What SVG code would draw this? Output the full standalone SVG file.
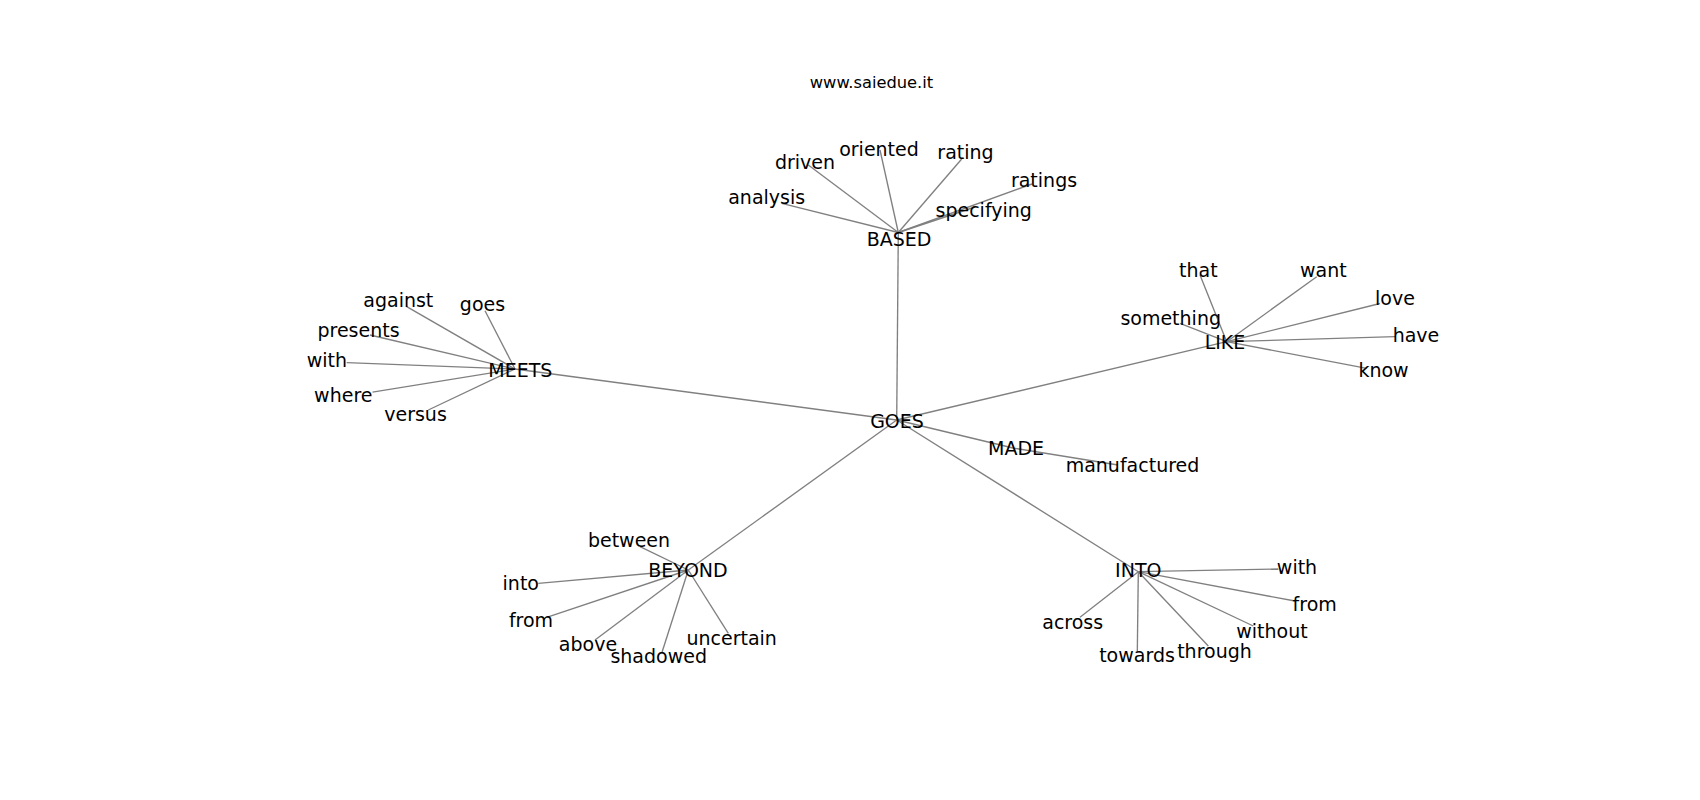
<svg xmlns="http://www.w3.org/2000/svg" width="1700" height="800" viewBox="0 0 1700 800">
<style>
  .e line { stroke: #808080; stroke-width: 1.35; fill: none; }
  text { font-family: "DejaVu Sans", "Liberation Sans", sans-serif; fill: #000; text-anchor: middle; }
  .n text { font-size: 19px; }
  .t { font-size: 16.3px; }
</style>
<rect width="1700" height="800" fill="#fff"/>
<text class="t" x="871.5" y="88">www.saiedue.it</text>
<g id="connectors" class="e">
  <line x1="896.7" y1="420" x2="898.3" y2="232.5"/>
  <line x1="896.7" y1="420" x2="515" y2="369"/>
  <line x1="896.7" y1="420" x2="1226.7" y2="341.7"/>
  <line x1="896.7" y1="420" x2="1013" y2="448"/>
  <line x1="896.7" y1="420" x2="688.3" y2="570"/>
  <line x1="896.7" y1="420" x2="1138.3" y2="571.7"/>
  <line x1="898.3" y1="232.5" x2="781.7" y2="203.3"/>
  <line x1="898.3" y1="232.5" x2="808.3" y2="165"/>
  <line x1="898.3" y1="232.5" x2="880" y2="150"/>
  <line x1="898.3" y1="232.5" x2="961.7" y2="159"/>
  <line x1="898.3" y1="232.5" x2="1032" y2="184"/>
  <line x1="898.3" y1="232.5" x2="975" y2="207"/>
  <line x1="515" y1="369" x2="406.7" y2="306.7"/>
  <line x1="515" y1="369" x2="485" y2="310.7"/>
  <line x1="515" y1="369" x2="370" y2="335"/>
  <line x1="515" y1="369" x2="346.7" y2="362.7"/>
  <line x1="515" y1="369" x2="372.5" y2="392.2"/>
  <line x1="515" y1="369" x2="428.3" y2="410"/>
  <line x1="1226.7" y1="341.7" x2="1200" y2="275"/>
  <line x1="1226.7" y1="341.7" x2="1316.7" y2="276.7"/>
  <line x1="1226.7" y1="341.7" x2="1380" y2="303.5"/>
  <line x1="1226.7" y1="341.7" x2="1395" y2="336.7"/>
  <line x1="1226.7" y1="341.7" x2="1366.7" y2="368.3"/>
  <line x1="1226.7" y1="341.7" x2="1180" y2="323.3"/>
  <line x1="1013" y1="448" x2="1118" y2="465"/>
  <line x1="688.3" y1="570" x2="640" y2="546.7"/>
  <line x1="688.3" y1="570" x2="538.3" y2="583.3"/>
  <line x1="688.3" y1="570" x2="546.7" y2="617.3"/>
  <line x1="688.3" y1="570" x2="595" y2="640"/>
  <line x1="688.3" y1="570" x2="661.7" y2="653.3"/>
  <line x1="688.3" y1="570" x2="728.3" y2="633.3"/>
  <line x1="1138.3" y1="571.7" x2="1278.3" y2="569"/>
  <line x1="1138.3" y1="571.7" x2="1295" y2="601"/>
  <line x1="1138.3" y1="571.7" x2="1253.3" y2="626"/>
  <line x1="1138.3" y1="571.7" x2="1208.3" y2="646"/>
  <line x1="1138.3" y1="571.7" x2="1137.3" y2="651.7"/>
  <line x1="1138.3" y1="571.7" x2="1080" y2="617.3"/>
</g>
<g id="nodes" class="n">
  <g id="n-goes"><text x="897" y="428.3">GOES</text></g>
  <g id="n-based"><text x="899" y="246">BASED</text></g>
  <g id="n-analysis"><text x="766.7" y="204">analysis</text></g>
  <g id="n-driven"><text x="805" y="169">driven</text></g>
  <g id="n-oriented"><text x="879" y="156">oriented</text></g>
  <g id="n-rating"><text x="965.5" y="159.3">rating</text></g>
  <g id="n-ratings"><text x="1044" y="186.7">ratings</text></g>
  <g id="n-specifying"><text x="983.7" y="216.7">specifying</text></g>
  <g id="n-meets"><text x="520.3" y="376.7">MEETS</text></g>
  <g id="n-against"><text x="398.3" y="307.3">against</text></g>
  <g id="n-goes2"><text x="482.5" y="311">goes</text></g>
  <g id="n-presents"><text x="358.5" y="337.3">presents</text></g>
  <g id="n-with1"><text x="326.8" y="366.7">with</text></g>
  <g id="n-where"><text x="343.3" y="401.7">where</text></g>
  <g id="n-versus"><text x="415.5" y="420.7">versus</text></g>
  <g id="n-like"><text x="1225" y="349.3">LIKE</text></g>
  <g id="n-that"><text x="1198.3" y="276.7">that</text></g>
  <g id="n-want"><text x="1323.3" y="276.7">want</text></g>
  <g id="n-love"><text x="1395" y="305">love</text></g>
  <g id="n-have"><text x="1416" y="341.7">have</text></g>
  <g id="n-know"><text x="1383.5" y="377.3">know</text></g>
  <g id="n-something"><text x="1170.7" y="325">something</text></g>
  <g id="n-made"><text x="1016" y="455">MADE</text></g>
  <g id="n-manufactured"><text x="1132.5" y="471.7">manufactured</text></g>
  <g id="n-beyond"><text x="688" y="576.7">BEYOND</text></g>
  <g id="n-between"><text x="629" y="546.7">between</text></g>
  <g id="n-into1"><text x="520.8" y="590">into</text></g>
  <g id="n-from1"><text x="531" y="627.3">from</text></g>
  <g id="n-above"><text x="588" y="650.7">above</text></g>
  <g id="n-shadowed"><text x="658.7" y="663.3">shadowed</text></g>
  <g id="n-uncertain"><text x="731.7" y="645">uncertain</text></g>
  <g id="n-into"><text x="1138.3" y="576.7">INTO</text></g>
  <g id="n-with2"><text x="1297" y="574">with</text></g>
  <g id="n-from2"><text x="1314.7" y="610.7">from</text></g>
  <g id="n-without"><text x="1272" y="638.3">without</text></g>
  <g id="n-through"><text x="1214.5" y="658.3">through</text></g>
  <g id="n-towards"><text x="1137" y="661.7">towards</text></g>
  <g id="n-across"><text x="1072.7" y="629.3">across</text></g>
</g>
</svg>
